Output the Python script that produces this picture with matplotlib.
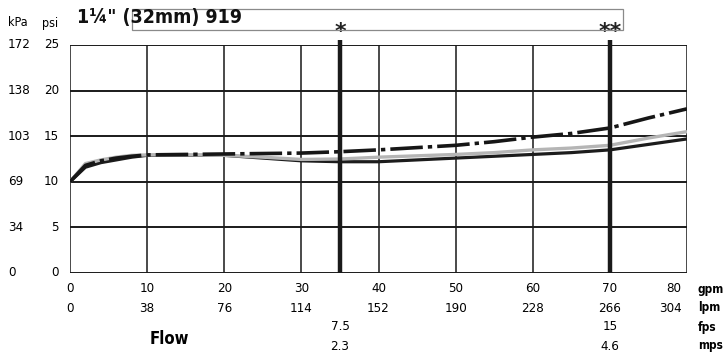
import matplotlib
matplotlib.use("Agg")
import matplotlib.pyplot as plt
import matplotlib.transforms as mtransforms
from matplotlib.patches import Rectangle

# ---------------------------------------------------------------------------
# data (flow in gpm, pressure in psi)
# ---------------------------------------------------------------------------
gpm = [0, 2, 4, 6, 8, 10, 15, 20, 25, 30, 35, 40, 45, 50, 55, 60, 65, 70, 75, 80]
black_psi = [10.0, 11.6, 12.1, 12.4, 12.7, 12.9, 12.9, 12.9, 12.6, 12.3, 12.2,
             12.2, 12.4, 12.6, 12.8, 13.0, 13.2, 13.5, 14.1, 14.7]
gray_psi = [10.0, 12.0, 12.4, 12.7, 12.9, 12.95, 12.95, 12.9, 12.7, 12.45, 12.5,
            12.7, 12.85, 13.0, 13.2, 13.5, 13.7, 14.0, 14.8, 15.5]
dash_psi = [10.0, 11.8, 12.3, 12.6, 12.8, 12.95, 13.0, 13.05, 13.1, 13.15, 13.3,
            13.5, 13.75, 14.0, 14.4, 14.9, 15.3, 15.9, 17.0, 18.0]

gpm_ticks = [0, 10, 20, 30, 40, 50, 60, 70, 80]
lpm_labels = ["0", "38", "76", "114", "152", "190", "228", "266", "304"]
psi_ticks = [0, 5, 10, 15, 20, 25]
kpa_labels = ["0", "34", "69", "103", "138", "172"]

velocity_gpm = [35, 70]          # 5 ft/s reference lines
velocity_marks = ["*", "**"]
fps_labels = ["7.5", "15"]
mps_labels = ["2.3", "4.6"]

title = "1\u00bc\" (32mm) 919"

plt.rcParams["font.family"] = ["DejaVu Sans"]
plt.rcParams["font.stretch"] = "condensed"

W, H = 725, 356
fig = plt.figure(figsize=(W / 100, H / 100), dpi=100)
ax = fig.add_axes([70 / W, 1 - 273 / H, (687 - 70) / W, (273 - 45) / H])
ax.set_xlim(0, 80)
ax.set_ylim(0, 25)

# grid -----------------------------------------------------------------------
for x in gpm_ticks:
    ax.axvline(x, color="#2a2a2a", lw=1.2, zorder=1)
for y in psi_ticks:
    ax.axhline(y, color="#1a1a1a", lw=1.4, zorder=1)
for s in ax.spines.values():
    s.set_visible(False)
ax.set_xticks([])
ax.set_yticks([])

# curves ---------------------------------------------------------------------
ax.plot(gpm, black_psi, color="#1c1c1c", lw=2.3, solid_capstyle="butt", zorder=3)
ax.plot(gpm, gray_psi, color="#b5b5b5", lw=2.4, solid_capstyle="butt", zorder=4)
ax.plot(gpm, dash_psi, color="#161616", lw=2.6, dashes=(9, 1.4, 1.2, 1.4),
        zorder=5)

# velocity reference lines -----------------------------------------------------
ax.vlines(velocity_gpm, 0, 25.6, color="#1a1a1a", lw=3.2, clip_on=False, zorder=6)
for x, m in zip(velocity_gpm, velocity_marks):
    ax.text(x, 25.35, m, ha="center", va="bottom", fontsize=16, fontweight="bold",
            fontstretch="normal", color="#222222", clip_on=False)

# axis labels -------------------------------------------------------------------
ytr = mtransforms.blended_transform_factory(fig.transFigure, ax.transData)
for y, k in zip(psi_ticks, kpa_labels):
    fig.text(8 / W, y, k, transform=ytr, ha="left", va="center", fontsize=9.5)
    fig.text(59 / W, y, str(y), transform=ytr, ha="right", va="center", fontsize=9.5)
fig.text(8 / W, 1 - 23 / H, "kPa", ha="left", va="center", fontsize=9)
fig.text(58 / W, 1 - 23 / H, "psi", ha="right", va="center", fontsize=9)

xtr = mtransforms.blended_transform_factory(ax.transData, fig.transFigure)
for x, l in zip(gpm_ticks, lpm_labels):
    if x == gpm_ticks[-1]:
        ha, xx = "right", x - 0.7
    else:
        ha, xx = "center", x
    fig.text(xx, 1 - 289 / H, str(x), transform=xtr, ha=ha, va="center", fontsize=9.5)
    fig.text(xx, 1 - 308 / H, l, transform=xtr, ha=ha, va="center", fontsize=9.5)
for x, f, m in zip(velocity_gpm, fps_labels, mps_labels):
    fig.text(x, 1 - 327 / H, f, transform=xtr, ha="center", va="center", fontsize=9.5)
    fig.text(x, 1 - 346 / H, m, transform=xtr, ha="center", va="center", fontsize=9.5)

for yy, u in zip([289, 308, 327, 345], ["gpm", "lpm", "fps", "mps"]):
    fig.text(698 / W, 1 - yy / H, u, ha="left", va="center", fontsize=8.5,
             fontweight="bold")
fig.text(169 / W, 1 - 339 / H, "Flow", ha="center", va="center", fontsize=12,
         fontweight="bold")

# title with box ------------------------------------------------------------------
fig.patches.append(Rectangle((132 / W, 1 - 29.5 / H), (623 - 132) / W, 21 / H,
                             transform=fig.transFigure, fill=False,
                             edgecolor="#8a8a8a", lw=0.9))
fig.text(77 / W, 1 - 17.5 / H, title, ha="left", va="center", fontsize=14,
         fontweight="bold", color="#111111")

fig.savefig("out.png", dpi=100)
